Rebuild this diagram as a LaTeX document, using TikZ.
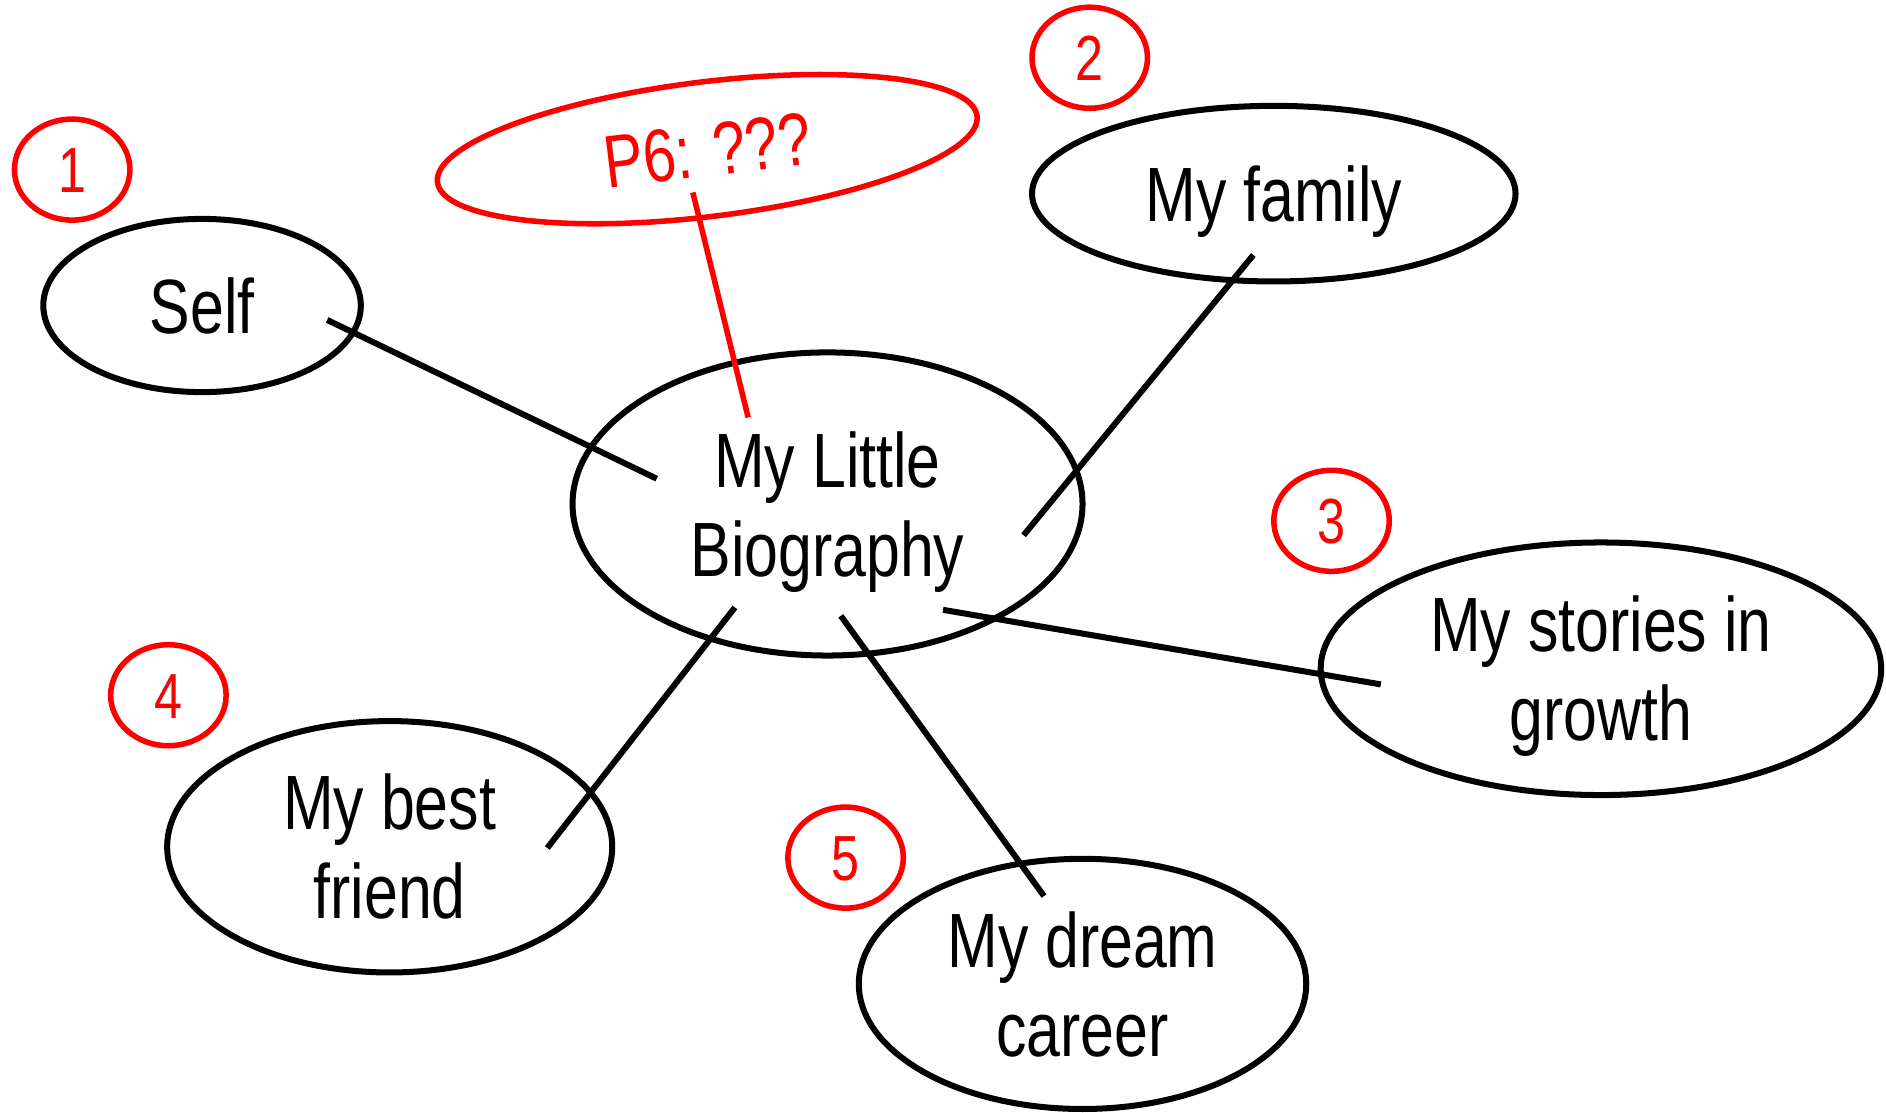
\documentclass[tikz,border=0pt]{standalone}
\usepackage{fontspec}
\setmainfont{Liberation Sans}[FakeStretch=0.79]
\usepackage{tikz}
\usetikzlibrary{shapes.geometric,calc}
\def\BubFont{\fontsize{64}{74}\selectfont}
\def\NumFont{\fontsize{53}{60}\selectfont}
\tikzset{
	bub/.style={ellipse,draw,line width=5pt,inner sep=0pt,align=center,font=\BubFont,text height=46pt,text depth=0pt},
	bubtwo/.style={bub,text height=120pt},
	num/.style={ellipse,draw=red,text=red,line width=4.6pt,inner sep=0pt,minimum width=96pt,minimum height=84pt,font=\NumFont,text height=38pt,text depth=0pt},
	link/.style={line width=5pt},
	redlink/.style={line width=4.6pt,red}
}
\begin{document}
		\begin{tikzpicture}[x=1pt,y=-1pt]
			\useasboundingbox (0,0) rectangle (1568,925);
				\node[bubtwo,minimum width=424pt,minimum height=252pt] (bio) at (688,419) {My Little\\Biography};
				\node[bub,minimum width=264pt,minimum height=144pt] (self) at (168,254) {Self};
				\node[bub,minimum width=402pt,minimum height=146pt] (fam) at (1059,161) {My family};
				\node[bubtwo,minimum width=466pt,minimum height=210pt] (sto) at (1331,556) {My stories in\\growth};
				\node[bubtwo,minimum width=370pt,minimum height=209pt] (bf) at (324,704) {My best\\friend};
				\node[bubtwo,minimum width=372pt,minimum height=208pt] (dc) at (900,818) {My dream\\career};
				\node[ellipse,draw=red,text=red,line width=4.6pt,inner sep=0pt,rotate=7,minimum width=452pt,minimum height=112pt,font=\fontsize{62}{70}\selectfont,text height=45pt,text depth=0pt] (p6) at (588,124) {P6: ???};
				% 
				\node[num] (n1) at (60,141) {1};
				\node[num] (n2) at (906,48) {2};
				\node[num] (n3) at (1107,433) {3};
				\node[num] (n4) at (140,578) {4};
				\node[num] (n5) at (703,713) {5};
				% 
				\coordinate (self1) at ($(self)+(104,12)$);
				\coordinate (bio1) at ($(bio)+(-142,-21)$);
				\coordinate (p61) at ($(p6)+(-12,36)$);
				\coordinate (bio2) at ($(bio)+(-66,-72)$);
				\coordinate (fam1) at ($(fam)+(-17,51)$);
				\coordinate (bio3) at ($(bio)+(163,26)$);
				\coordinate (sto1) at ($(sto)+(-183,13)$);
				\coordinate (bio4) at ($(bio)+(96,88)$);
				\coordinate (bf1) at ($(bf)+(131,1)$);
				\coordinate (bio5) at ($(bio)+(-77,86)$);
				\coordinate (dc1) at ($(dc)+(-32,-73)$);
				\coordinate (bio6) at ($(bio)+(11,93)$);
				% 
				\draw[link] (self1) -- (bio1);
				\draw[redlink] (p61) -- (bio2);
				\draw[link] (fam1) -- (bio3);
				\draw[link] (sto1) -- (bio4);
				\draw[link] (bf1) -- (bio5);
				\draw[link] (dc1) -- (bio6);
		\end{tikzpicture}
\end{document}
